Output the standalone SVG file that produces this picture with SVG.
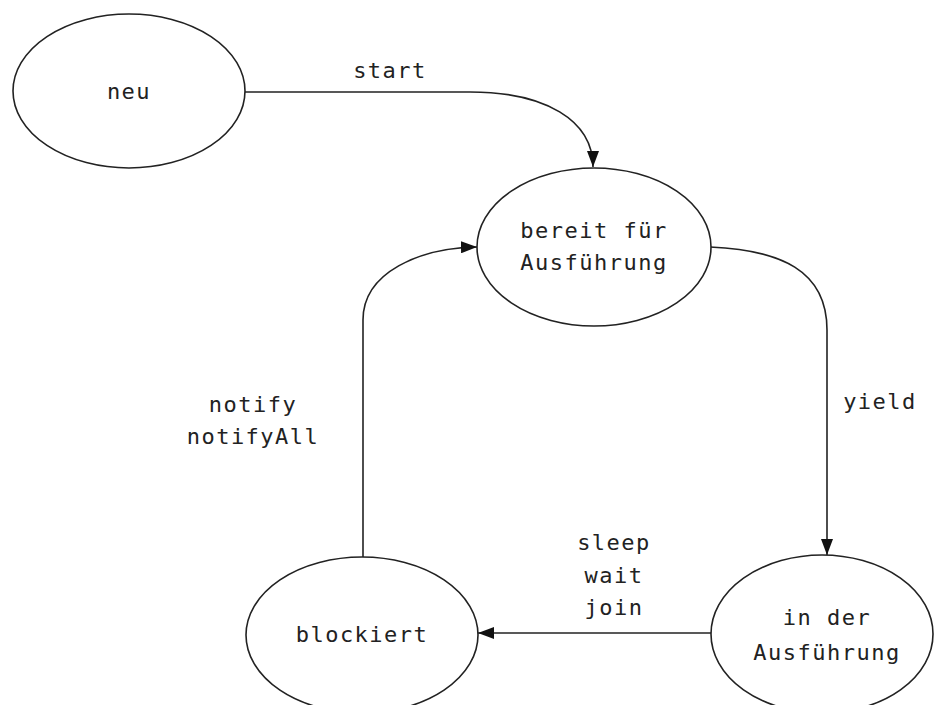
<svg xmlns="http://www.w3.org/2000/svg" width="935" height="705" viewBox="0 0 935 705">
<style>
.node ellipse{fill:#fff;stroke:#222;stroke-width:1.6}
text{font-family:"DejaVu Sans Mono","Liberation Mono",monospace;font-size:22px;fill:#222;text-anchor:middle;letter-spacing:1.5px}
.edge{fill:none;stroke:#222;stroke-width:1.6}
</style>
<defs>
<marker id="arr" viewBox="0 0 16 12" refX="16" refY="6" markerWidth="16" markerHeight="12" markerUnits="userSpaceOnUse" orient="auto">
<path d="M0,0 L16,6 L0,12 z" fill="#111"/>
</marker>
</defs>
<g id="connectors">
<path class="edge" d="M245,92 H470 C545,92 593,120 593,167" marker-end="url(#arr)"/>
<path class="edge" d="M710,247 C780,250 827,270 827,330 V555" marker-end="url(#arr)"/>
<path class="edge" d="M711,633 H478" marker-end="url(#arr)"/>
<path class="edge" d="M363,557 V320 C363,272 420,248 477,247" marker-end="url(#arr)"/>
<text x="390" y="78">start</text>
<text x="880" y="409">yield</text>
<text x="614" y="550">sleep</text>
<text x="614" y="583">wait</text>
<text x="614" y="615">join</text>
<text x="253" y="412">notify</text>
<text x="253" y="444">notifyAll</text>
</g>
<g id="neu" class="node">
<ellipse cx="129" cy="91" rx="116" ry="77"/>
<text x="129" y="99">neu</text>
</g>
<g id="bereit" class="node">
<ellipse cx="594" cy="247" rx="117" ry="79"/>
<text x="594" y="238">bereit für</text>
<text x="594" y="270">Ausführung</text>
</g>
<g id="ausfuehrung" class="node">
<ellipse cx="822" cy="634" rx="111" ry="79"/>
<text x="827" y="625">in der</text>
<text x="827" y="660">Ausführung</text>
</g>
<g id="blockiert" class="node">
<ellipse cx="362" cy="635" rx="116" ry="78"/>
<text x="362" y="642">blockiert</text>
</g>
</svg>
